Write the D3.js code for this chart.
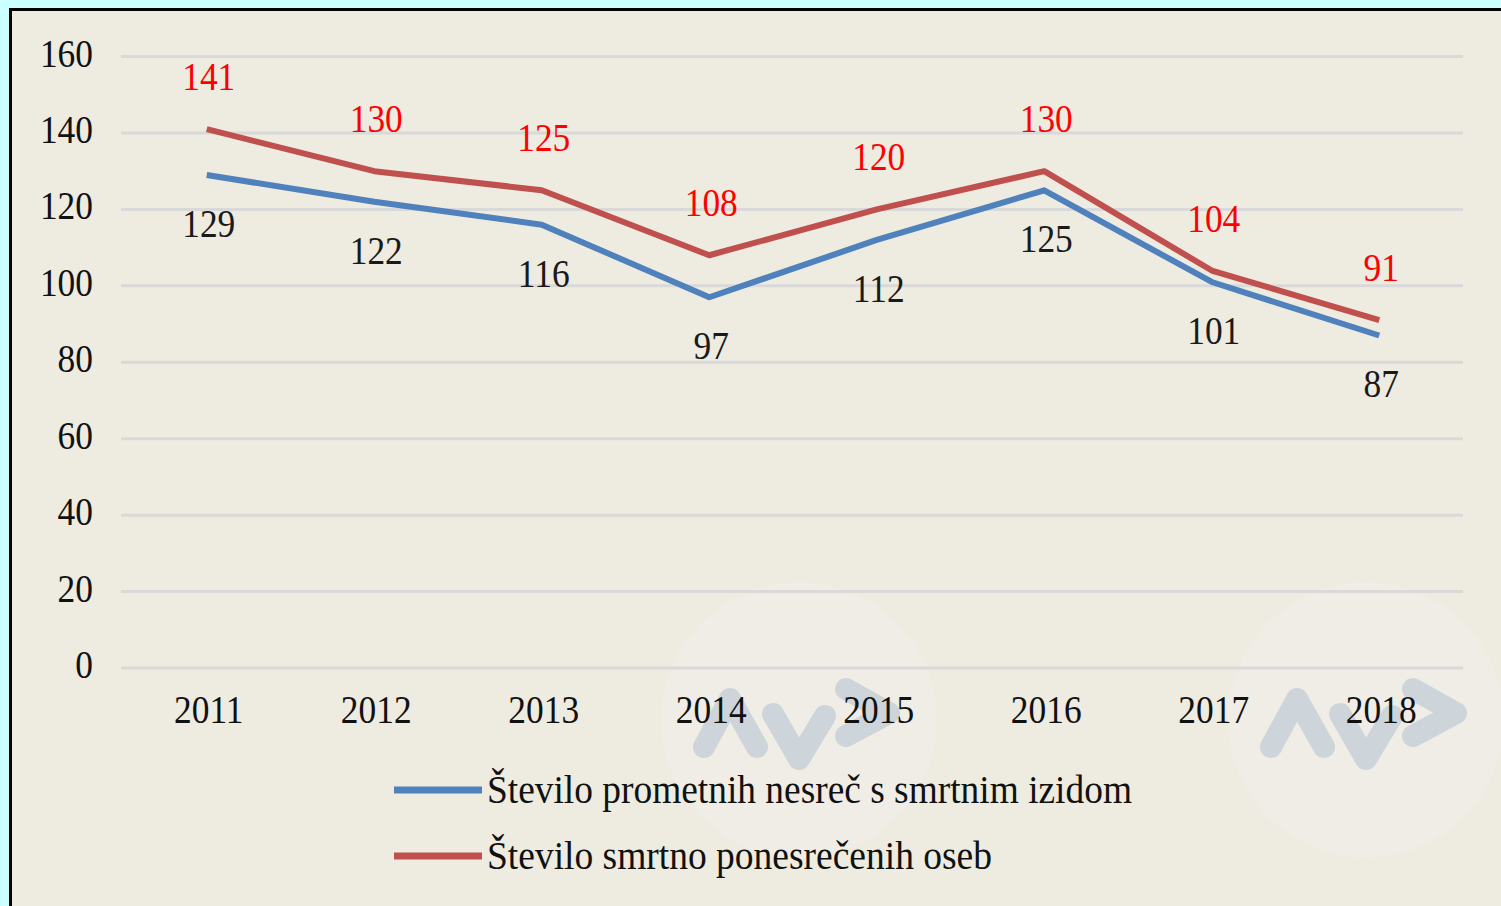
<!DOCTYPE html>
<html>
<head>
<meta charset="utf-8">
<script src="https://cdn.jsdelivr.net/npm/d3@7"></script>
<style>
  html, body { margin: 0; padding: 0; background: #ccffff; }
  svg { display: block; }
</style>
</head>
<body>
<div id="chart"></div>
<script>
// data
const years = ["2011", "2012", "2013", "2014", "2015", "2016", "2017", "2018"];
const nesrece = [129, 122, 116, 97, 112, 125, 101, 87];
const umrli = [141, 130, 125, 108, 120, 130, 104, 91];
const yTicks = [0, 20, 40, 60, 80, 100, 120, 140, 160];
const seriesNames = [
    "Število prometnih nesreč s smrtnim izidom",
    "Število smrtno ponesrečenih oseb"
];

const W = 1501, H = 906;
const FONT = "'Liberation Serif', 'Times New Roman', serif";

const svg = d3.select("#chart").append("svg")
    .attr("width", W)
    .attr("height", H);

// frame
svg.append("rect")
    .attr("x", 9).attr("y", 8)
    .attr("width", W).attr("height", H)
    .attr("fill", "#eeebe0");
svg.append("line")
    .attr("x1", 9).attr("x2", W).attr("y1", 9.5).attr("y2", 9.5)
    .attr("stroke", "#000").attr("stroke-width", 3);
svg.append("line")
    .attr("x1", 10.5).attr("x2", 10.5).attr("y1", 8).attr("y2", H)
    .attr("stroke", "#000").attr("stroke-width", 3);

// watermark (faint circles with logo)
function watermark(cx, cy) {
    const g = svg.append("g").attr("transform", `translate(${cx},${cy})`);
    g.append("circle").attr("r", 138).attr("fill", "#efede5");
    g.append("path")
        .attr("d", "M-95,27 L-69,-21 L-42,27 M-26,-6 L0,39 L26,-4 M47,-31 L90,-7 L47,16")
        .attr("fill", "none")
        .attr("stroke", "#cdd4da")
        .attr("stroke-width", 22)
        .attr("stroke-linecap", "round")
        .attr("stroke-linejoin", "round");
}
watermark(799, 720);
watermark(1366, 720);

const x = d3.scaleBand().domain(years).range([123, 1463]);
const y = d3.scaleLinear().domain([0, 160]).range([668, 56.5]);
const cx = d => x(d) + x.bandwidth() / 2;

// gridlines
svg.append("g")
    .selectAll("line")
    .data(yTicks)
    .join("line")
    .attr("x1", 121).attr("x2", 1463)
    .attr("y1", d => y(d)).attr("y2", d => y(d))
    .attr("stroke", "#d9d9d9")
    .attr("stroke-width", 3);

// text helper: slightly condensed serif like the reference
function label(g, tx, ty, str, anchor, fill) {
    return g.append("text")
        .attr("transform", `translate(${tx},${ty}) scale(0.885,1)`)
        .attr("text-anchor", anchor)
        .attr("fill", fill)
        .style("font-family", FONT)
        .style("font-size", "40px")
        .text(str);
}

// y axis labels
const yAxisG = svg.append("g");
yTicks.forEach(t => label(yAxisG, 93, y(t) + 10, t, "end", "#111"));

// x axis labels
const xAxisG = svg.append("g");
years.forEach(yr => label(xAxisG, cx(yr) + 2, 723, yr, "middle", "#111"));

// lines
const line = d3.line()
    .x((d, i) => cx(years[i]))
    .y(d => y(d));

svg.append("path")
    .datum(nesrece)
    .attr("d", line)
    .attr("fill", "none")
    .attr("stroke", "#4f81bd")
    .attr("stroke-width", 6)
    .attr("stroke-linejoin", "round");

svg.append("path")
    .datum(umrli)
    .attr("d", line)
    .attr("fill", "none")
    .attr("stroke", "#c0504d")
    .attr("stroke-width", 6)
    .attr("stroke-linejoin", "round");

// data labels
const lblG = svg.append("g");
nesrece.forEach((v, i) => label(lblG, cx(years[i]) + 2, y(v) + 62, v, "middle", "#1a1a1a"));
umrli.forEach((v, i) => label(lblG, cx(years[i]) + 2, y(v) - 39, v, "middle", "#ff0000"));

// legend
const legendColors = ["#4f81bd", "#c0504d"];
const legend = svg.append("g");
seriesNames.forEach((name, i) => {
    const ly = 790 + i * 66;
    legend.append("line")
        .attr("x1", 394).attr("x2", 482)
        .attr("y1", ly).attr("y2", ly)
        .attr("stroke", legendColors[i])
        .attr("stroke-width", 7);
    legend.append("text")
        .attr("x", 487)
        .attr("y", ly + 13)
        .attr("fill", "#111")
        .style("font-family", FONT)
        .style("font-size", "40px")
        .attr("textLength", i === 0 ? 645 : 505)
        .attr("lengthAdjust", "spacingAndGlyphs")
        .text(name);
});
</script>
</body>
</html>
